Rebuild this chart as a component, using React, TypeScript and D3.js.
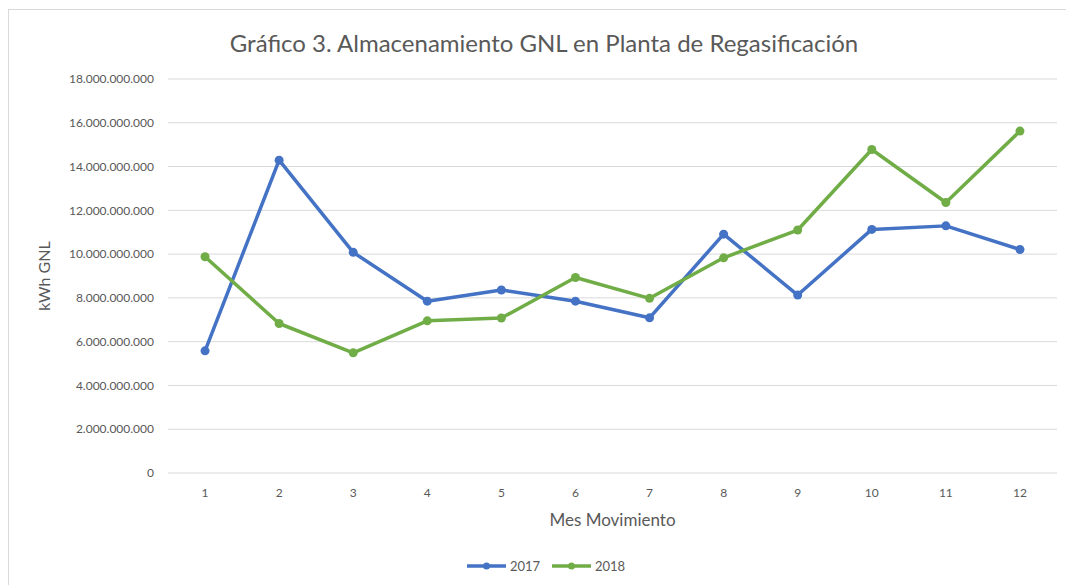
import React from 'react'
import * as d3 from 'd3'

const months = ['1', '2', '3', '4', '5', '6', '7', '8', '9', '10', '11', '12']
const values2017 = [5.58e9, 14.29e9, 10.08e9, 7.85e9, 8.36e9, 7.85e9, 7.09e9, 10.91e9, 8.13e9, 11.13e9, 11.29e9, 10.21e9]
const values2018 = [9.88e9, 6.83e9, 5.49e9, 6.95e9, 7.08e9, 8.93e9, 7.98e9, 9.83e9, 11.1e9, 14.78e9, 12.36e9, 15.62e9]
const yTicks = [0, 2e9, 4e9, 6e9, 8e9, 10e9, 12e9, 14e9, 16e9, 18e9]

const series = [
  { name: '2017', values: values2017, color: '#4472C4' },
  { name: '2018', values: values2018, color: '#70AD47' },
]

const width = 1066
const height = 585
const margin = { left: 168, right: 9, top: 79, bottom: 112 }
const font = 'Lato, "Open Sans", sans-serif'
const textColor = '#595959'

const fmt = (v: number) => d3.format(',')(v).replace(/,/g, '.')

const App = () => {
  const x = d3.scaleBand<string>()
    .domain(months)
    .range([margin.left, width - margin.right])
  const y = d3.scaleLinear()
    .domain([0, 18e9])
    .range([height - margin.bottom, margin.top])

  const line = d3.line<number>()
    .x((d, i) => x(months[i])! + x.bandwidth() / 2)
    .y(d => y(d))

  const plotMid = (margin.left + width - margin.right) / 2

  return (
    <svg width={width} height={height} style={{ position: 'absolute', left: 0, top: 0, fontFamily: font }}>
      <rect x={8.5} y={9.5} width={width} height={height} fill="white" stroke="#d9d9d9" />
      <text x={544} y={52} textAnchor="middle" fontSize={24} fill={textColor}>
        Gráfico 3. Almacenamiento GNL en Planta de Regasificación
      </text>

      {yTicks.map(t => (
        <g key={t}>
          <line x1={margin.left} x2={width - margin.right} y1={y(t)} y2={y(t)} stroke="#d9d9d9" strokeWidth={1} />
          <text x={154} y={y(t)} dy="0.35em" textAnchor="end" fontSize={12} fill={textColor}>{fmt(t)}</text>
        </g>
      ))}

      {months.map(m => (
        <text key={m} x={x(m)! + x.bandwidth() / 2} y={497} textAnchor="middle" fontSize={12} fill={textColor}>{m}</text>
      ))}

      <text x={plotMid} y={526} textAnchor="middle" fontSize={17} fill={textColor}>Mes Movimiento</text>
      <text transform="translate(50,276) rotate(-90)" textAnchor="middle" fontSize={16} fill={textColor}>kWh GNL</text>

      {series.map(s => (
        <g key={s.name}>
          <path d={line(s.values)!} fill="none" stroke={s.color} strokeWidth={3.5} strokeLinejoin="round" />
          {s.values.map((v, i) => (
            <circle key={i} cx={x(months[i])! + x.bandwidth() / 2} cy={y(v)} r={4.5} fill={s.color} />
          ))}
        </g>
      ))}

      {series.map((s, i) => {
        const lx = 467 + i * 85
        return (
          <g key={s.name}>
            <line x1={lx} x2={lx + 39} y1={566} y2={566} stroke={s.color} strokeWidth={3.5} />
            <circle cx={lx + 19.5} cy={566} r={3.5} fill={s.color} />
            <text x={lx + 43} y={566} dy="0.35em" fontSize={13} fill={textColor}>{s.name}</text>
          </g>
        )
      })}
    </svg>
  )
}

export default App
